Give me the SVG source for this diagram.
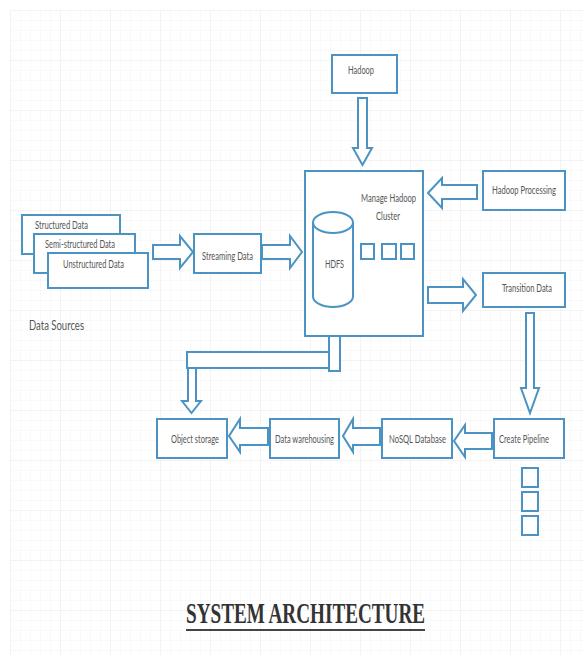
<svg xmlns="http://www.w3.org/2000/svg" width="585" height="655" viewBox="0 0 585 655">
<defs>
<pattern id="gs" width="10" height="10" patternUnits="userSpaceOnUse" x="10" y="10">
<path d="M10 0H0V10" fill="none" stroke="#f4f4f4" stroke-width="1"/>
</pattern>
<pattern id="gl" width="50" height="50" patternUnits="userSpaceOnUse" x="10" y="10">
<rect width="50" height="50" fill="url(#gs)"/>
<path d="M50 0H0V50" fill="none" stroke="#ececec" stroke-width="1"/>
</pattern>
</defs>
<style>
.b{fill:#fff;stroke:#4a93c2;stroke-width:2}
.a{fill:#fff;stroke:#4a93c2;stroke-width:2;stroke-linejoin:miter}
.t{font-family:Lato,"Liberation Sans",sans-serif;font-size:11px;fill:#555;dominant-baseline:central}
</style>
<rect width="585" height="655" fill="#fff"/>
<rect x="10" y="10" width="575" height="645" fill="url(#gl)"/>

<g id="connectors">
<polygon class="a" points="153,245 180,245 180,236 193,252 180,268 180,259 153,259"/>
<polygon class="a" points="262,245 290,245 290,236 302,252 290,268 290,259 262,259"/>
<polygon class="a" points="358,98 367,98 367,148 372,148 362.5,165 353,148 358,148"/>
<polygon class="a" points="477,185 442,185 442,178 428,193 442,208 442,199 477,199"/>
<polygon class="a" points="428,287 463,287 463,279 476,295 463,311 463,303 428,303"/>
<polygon class="a" points="526,313 534,313 534,388 539,388 530,413 521,388 526,388"/>
<polygon class="a" points="492,433 465,433 465,425 454,441 465,457 465,449 492,449"/>
<polygon class="a" points="380,428 353,428 353,419 343,436 353,452 353,445 380,445"/>
<polygon class="a" points="268,428 240,428 240,419 229,436 240,452 240,445 268,445"/>
<polygon class="a" points="188,366 196,366 196,401 201,401 191.5,413 182,401 188,401"/>
<rect class="a" x="187" y="352" width="143" height="16"/>
<rect class="a" x="329" y="313" width="11" height="58"/>
</g>

<g id="structured-data"><rect class="b" x="22" y="215" width="98" height="39"/><text class="t" x="35" y="224" textLength="53" lengthAdjust="spacingAndGlyphs">Structured Data</text></g>
<g id="semi-structured-data"><rect class="b" x="34" y="234" width="101" height="39"/><text class="t" x="45" y="243" textLength="70" lengthAdjust="spacingAndGlyphs">Semi-structured Data</text></g>
<g id="unstructured-data"><rect class="b" x="48" y="253" width="100" height="35"/><text class="t" x="63" y="263" textLength="61" lengthAdjust="spacingAndGlyphs">Unstructured Data</text></g>
<g id="data-sources"><text class="t" x="29" y="324" style="font-size:14px" textLength="55" lengthAdjust="spacingAndGlyphs">Data Sources</text></g>
<g id="streaming-data"><rect class="b" x="194" y="234" width="67" height="39"/><text class="t" x="202" y="255" textLength="51" lengthAdjust="spacingAndGlyphs">Streaming Data</text></g>
<g id="hadoop"><rect class="b" x="332" y="55" width="65" height="38"/><text class="t" x="348" y="69" textLength="26" lengthAdjust="spacingAndGlyphs">Hadoop</text></g>
<g id="hadoop-processing"><rect class="b" x="483" y="171" width="82" height="39"/><text class="t" x="492" y="189" textLength="64" lengthAdjust="spacingAndGlyphs">Hadoop Processing</text></g>
<g id="cluster">
<rect class="b" x="305" y="171" width="118" height="165"/>
<text class="t" x="361" y="197" textLength="55" lengthAdjust="spacingAndGlyphs">Manage Hadoop</text>
<text class="t" x="376" y="215" textLength="24" lengthAdjust="spacingAndGlyphs">Cluster</text>
<rect class="b" x="361" y="244" width="13" height="15"/>
<rect class="b" x="382" y="244" width="14" height="15"/>
<rect class="b" x="401" y="244" width="13" height="15"/>
</g>
<g id="hdfs">
<path class="b" d="M313 222.5V296.5A20 10.5 0 0 0 353 296.5V222.5"/>
<ellipse class="b" cx="333" cy="222.5" rx="20" ry="10.5"/>
<text class="t" x="325" y="263" textLength="19" lengthAdjust="spacingAndGlyphs">HDFS</text>
</g>
<g id="transition-data"><rect class="b" x="483" y="273" width="82" height="34"/><text class="t" x="502" y="287" textLength="50" lengthAdjust="spacingAndGlyphs">Transition Data</text></g>
<g id="object-storage"><rect class="b" x="157" y="419" width="70" height="39"/><text class="t" x="171" y="438" textLength="48" lengthAdjust="spacingAndGlyphs">Object storage</text></g>
<g id="data-warehousing"><rect class="b" x="270" y="419" width="69" height="39"/><text class="t" x="275" y="438" textLength="59" lengthAdjust="spacingAndGlyphs">Data warehousing</text></g>
<g id="nosql-database"><rect class="b" x="382" y="419" width="70" height="39"/><text class="t" x="389" y="438" textLength="57" lengthAdjust="spacingAndGlyphs">NoSQL Database</text></g>
<g id="create-pipeline">
<rect class="b" x="494" y="419" width="70" height="39"/><text class="t" x="499" y="438" textLength="50" lengthAdjust="spacingAndGlyphs">Create Pipeline</text>
<rect class="b" x="522" y="468" width="16" height="19"/>
<rect class="b" x="522" y="492" width="16" height="19"/>
<rect class="b" x="522" y="516" width="16" height="19"/>
</g>
<g id="title">
<text x="186" y="623" font-family="'Liberation Serif',serif" font-weight="bold" font-size="30" fill="#333" textLength="239" lengthAdjust="spacingAndGlyphs">SYSTEM ARCHITECTURE</text>
<line x1="186" y1="630" x2="425" y2="630" stroke="#444" stroke-width="2"/>
</g>
</svg>
